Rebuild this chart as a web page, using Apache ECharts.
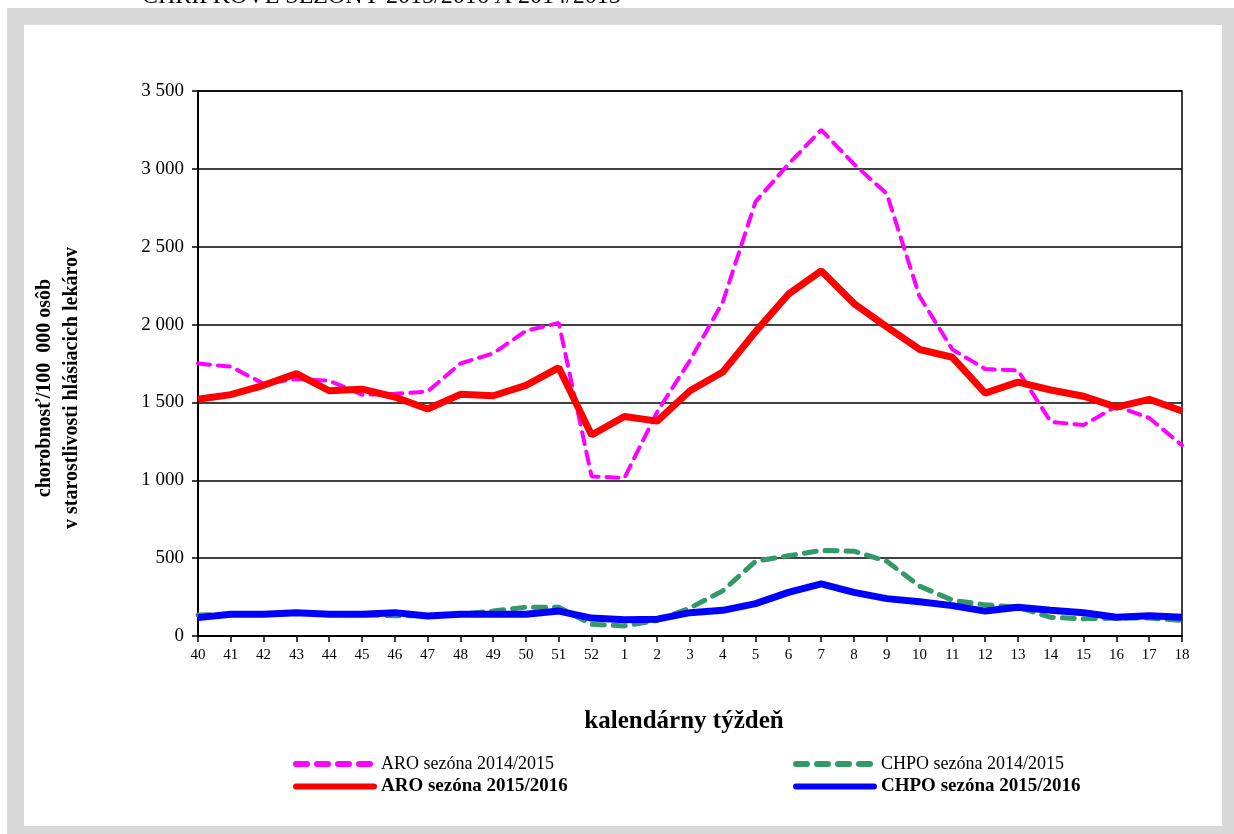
<!DOCTYPE html>
<html>
<head>
<meta charset="utf-8">
<script src="https://cdn.jsdelivr.net/npm/echarts@6/dist/echarts.min.js"></script>
<style>
  html, body { margin: 0; padding: 0; background: #fff; }
  #main { width: 1234px; height: 834px; }
</style>
</head>
<body>
<div id="main"></div>
<script>
var weeks = ['40','41','42','43','44','45','46','47','48','49','50','51','52',
  '1','2','3','4','5','6','7','8','9','10','11','12','13','14','15','16','17','18'];

var aro1415 = [1750, 1730, 1620, 1650, 1640, 1550, 1555, 1570, 1750, 1815, 1960, 2010, 1025,
  1015, 1440, 1770, 2145, 2790, 3030, 3250, 3030, 2840, 2180, 1840, 1715, 1705, 1375, 1355, 1475, 1400, 1225];
var aro1516 = [1520, 1550, 1610, 1685, 1575, 1585, 1535, 1458, 1552, 1543, 1610, 1723, 1291,
  1410, 1380, 1575, 1695, 1955, 2195, 2345, 2135, 1985, 1840, 1790, 1560, 1630, 1580, 1540, 1470, 1520, 1445];
var chpo1415 = [135, 140, 140, 145, 140, 135, 130, 130, 140, 160, 185, 185, 75,
  65, 100, 180, 290, 480, 515, 550, 545, 480, 320, 230, 200, 185, 120, 110, 115, 115, 100];
var chpo1516 = [118, 140, 140, 150, 140, 140, 150, 128, 140, 140, 140, 160, 115,
  105, 108, 150, 165, 208, 280, 335, 280, 240, 220, 195, 160, 185, 165, 150, 120, 130, 120];

var serif = '"Liberation Serif", "DejaVu Serif", serif';

var chart = echarts.init(document.getElementById('main'));

// one legend per item, so each can sit where it is in the picture
function legendFor(name, left, top, bold, dashed) {
  return {
    data: [name],
    left: left,
    top: top,
    itemWidth: 78,
    itemHeight: 10,
    padding: 0,
    selectedMode: false,
    itemStyle: { opacity: 0 },
    lineStyle: dashed ? { width: 6, type: [11, 10], cap: 'round' } : { width: 6, cap: 'round' },
    textStyle: {
      fontFamily: serif,
      fontSize: bold ? 19 : 18,
      fontWeight: bold ? 'bold' : 'normal',
      color: '#000',
      padding: [0, 0, 0, 2]
    }
  };
}

var option = {
  animation: false,
  backgroundColor: '#fff',
  graphic: [
    { type: 'rect', z: -100, shape: { x: 7, y: 8, width: 1227, height: 826 }, style: { fill: '#d9d9d9' } },
    { type: 'rect', z: -99, shape: { x: 24, y: 25, width: 1198, height: 801 }, style: { fill: '#fff' } },
    {
      type: 'text', z: 10, left: 142, top: -15,
      style: { text: 'CHRÍPKOVÉ SEZÓNY 2015/2016 A 2014/2015', font: '24px ' + serif, fill: '#000' }
    },
    {
      type: 'text', z: 10, x: 684, y: 722,
      style: { text: 'kalendárny týždeň', font: 'bold 25px ' + serif, fill: '#000', align: 'center', verticalAlign: 'middle' }
    },
    {
      type: 'text', z: 10, x: 58, y: 388,
      rotation: Math.PI / 2,
      style: {
        text: 'chorobnosť/100  000 osôb\nv starostlivosti hlásiacich lekárov',
        font: 'bold 20px ' + serif, fill: '#000', align: 'center', verticalAlign: 'middle', lineHeight: 27
      }
    }
  ],
  grid: {
    left: 198, right: 52, top: 91, bottom: 198,
    show: true, borderColor: '#000', borderWidth: 1.5, backgroundColor: 'transparent'
  },
  legend: [
    legendFor('ARO sezóna 2014/2015', 293, 755, false, true),
    legendFor('ARO sezóna 2015/2016', 293, 777, true, false),
    legendFor('CHPO sezóna 2014/2015', 793, 755, false, true),
    legendFor('CHPO sezóna 2015/2016', 793, 777, true, false)
  ],
  xAxis: {
    type: 'category',
    data: weeks,
    boundaryGap: false,
    axisLine: { lineStyle: { color: '#000', width: 2 } },
    axisTick: { show: true, interval: 0, length: 6, lineStyle: { color: '#000', width: 1.5 } },
    axisLabel: { interval: 0, color: '#000', fontFamily: serif, fontSize: 15, margin: 12 },
    splitLine: { show: false }
  },
  yAxis: {
    type: 'value',
    min: 0,
    max: 3500,
    interval: 500,
    axisLine: { show: true, lineStyle: { color: '#000', width: 2 } },
    axisTick: { show: true, length: 6, lineStyle: { color: '#000', width: 1.5 } },
    axisLabel: {
      color: '#000', fontFamily: serif, fontSize: 19, margin: 14,
      formatter: function (v) { return String(v).replace(/\B(?=(\d{3})+(?!\d))/g, ' '); }
    },
    splitLine: { show: true, lineStyle: { color: '#000', width: 1.5 } }
  },
  series: [
    {
      name: 'ARO sezóna 2014/2015', type: 'line', data: aro1415, symbol: 'none',
      color: '#ff00ff', z: 2,
      lineStyle: { color: '#ff00ff', width: 4, type: [12, 8], cap: 'round' }
    },
    {
      name: 'CHPO sezóna 2014/2015', type: 'line', data: chpo1415, symbol: 'none',
      color: '#339966', z: 2,
      lineStyle: { color: '#339966', width: 5, type: [12, 9], cap: 'round' }
    },
    {
      name: 'ARO sezóna 2015/2016', type: 'line', data: aro1516, symbol: 'none',
      color: '#ff0000', z: 3,
      lineStyle: { color: '#ff0000', width: 7 }
    },
    {
      name: 'CHPO sezóna 2015/2016', type: 'line', data: chpo1516, symbol: 'none',
      color: '#0000ff', z: 3,
      lineStyle: { color: '#0000ff', width: 7 }
    }
  ]
};

chart.setOption(option);
</script>
</body>
</html>
